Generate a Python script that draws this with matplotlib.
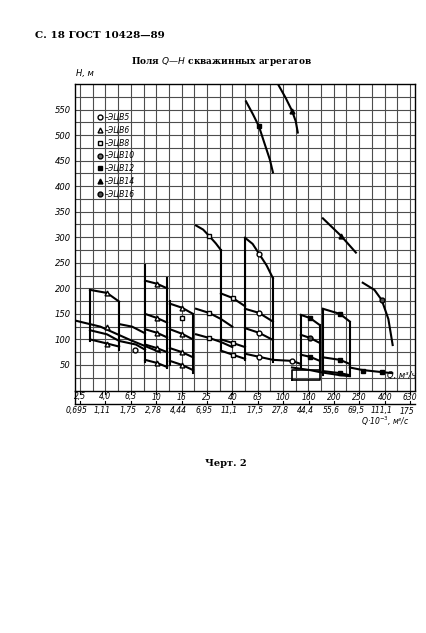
import matplotlib
matplotlib.use('Agg')
import matplotlib.pyplot as plt

plt.rcParams['font.family'] = ['DejaVu Sans']

# подача Q, м3/ч (верхний ряд) и Q*10^-3, м3/с (нижний ряд)
q_h = ['2,5', '4,0', '6,3', '10', '16', '25', '40', '63', '100', '160', '200', '250', '400', '630']
q_s = ['0,695', '1,11', '1,75', '2,78', '4,44', '6,95', '11,1', '17,5', '27,8', '44,4', '55,6', '69,5', '111,1', '175']

# кривые H(Q): x - номер деления шкалы Q, H в метрах
curves = [
    ([-0.2, 0.8, 1.97, 3.15], [137, 125, 99, 75]),
    ([0.39, 1.06, 1.54], [197, 191, 174]),
    ([0.39, 1.06, 1.54, 2.2, 2.56], [118, 110, 97, 90, 80]),
    ([0.39, 1.06, 1.54], [100, 92, 86]),
    ([1.54, 2.05, 2.56], [130, 125, 112]),
    ([2.56, 3.03, 3.43], [215, 209, 200]),
    ([2.56, 3.03, 3.43], [150, 142, 133]),
    ([2.56, 3.03, 3.43], [120, 113, 104]),
    ([2.56, 3.03, 3.43], [90, 83, 75]),
    ([2.56, 3.03, 3.43], [60, 54, 46]),
    ([3.54, 4.02, 4.45], [170, 162, 150]),
    ([3.54, 4.02, 4.45], [120, 111, 100]),
    ([3.54, 4.02, 4.45], [83, 75, 65]),
    ([3.54, 4.02, 4.45], [58, 50, 40]),
    ([4.57, 4.85, 5.08, 5.35, 5.55], [323, 315, 303, 288, 275]),
    ([4.57, 5.08, 5.55, 6.0], [160, 152, 140, 125]),
    ([4.57, 5.08, 5.55, 6.0], [110, 103, 95, 85]),
    ([5.55, 6.02, 6.5], [190, 181, 165]),
    ([5.55, 6.02, 6.5], [100, 93, 85]),
    ([5.55, 6.02, 6.5], [78, 70, 62]),
    ([6.5, 6.8, 7.05, 7.35, 7.6], [299, 287, 268, 245, 220]),
    ([6.5, 7.05, 7.6], [160, 152, 135]),
    ([6.5, 7.05, 7.6], [122, 113, 99]),
    ([6.5, 7.05, 7.6, 8.35, 8.7], [72, 66, 60, 58, 52]),
    ([6.54, 6.81, 7.05, 7.28, 7.48, 7.6], [566, 541, 517, 482, 452, 427]),
    ([7.83, 8.1, 8.35, 8.5, 8.58], [597, 573, 548, 527, 505]),
    ([9.57, 10.28, 10.87], [337, 303, 270]),
    ([11.14, 11.6, 11.89, 12.15, 12.32], [211, 197, 177, 140, 89]),
    ([8.7, 9.06, 9.45], [148, 142, 128]),
    ([8.7, 9.06, 9.45], [109, 103, 93]),
    ([8.7, 9.06, 9.45], [70, 66, 58]),
    ([8.35, 9.06, 9.45, 10.24, 10.63], [45, 40, 36, 30, 28]),
    ([9.57, 10.24, 10.63], [160, 150, 135]),
    ([9.57, 10.24, 10.63], [65, 60, 52]),
    ([9.57, 10.24, 10.63], [38, 34, 30]),
    ([10.63, 11.14, 11.89, 12.3], [45, 40, 36, 34]),
]
# вертикальные границы полей: x, H низ, H верх
edges_x = [0.39, 1.54, 2.56, 3.43, 3.54, 4.45, 5.55, 6.5, 7.6, 8.7, 9.45, 9.57, 10.63]
edges_lo = [97, 79, 56, 44, 50, 35, 80, 60, 56, 44, 40, 30, 28]
edges_hi = [197, 174, 246, 221, 175, 150, 275, 299, 220, 148, 128, 160, 135]

# маркеры: x, H, тип
mk_x = [2.17, 1.06, 1.06, 1.06, 3.03, 3.03, 3.03, 3.03, 3.03, 4.02, 4.02, 4.02, 4.02,
        4.02, 5.08, 5.08, 5.08, 6.02, 6.02, 6.02, 7.05, 7.05, 7.05, 7.05, 8.35,
        7.05, 8.35, 10.28, 11.89, 9.06, 9.06, 9.06, 10.24, 10.24, 10.24, 11.14, 11.89]
mk_h = [80, 191, 125, 92, 209, 142, 113, 83, 54, 162, 111, 75, 50,
        142, 303, 152, 103, 181, 93, 70, 268, 152, 113, 66, 58,
        517, 548, 303, 177, 142, 103, 66, 150, 60, 34, 38, 36]
mk_t = ['o', '^', '^', '^', '^', '^', '^', '^', '^', '^', '^', '^', '^',
        's', 's', 's', 's', 's', 's', 's', 'o', 'o', 'o', 'o', 'o',
        'S', 'T', 'T', 'h', 'S', 'h', 'S', 'S', 'S', 'S', 'S', 'S']

legend_names = ['ЭЦВ5', 'ЭЦВ6', 'ЭЦВ8', 'ЭЦВ10', 'ЭЦВ12', 'ЭЦВ14', 'ЭЦВ16']
legend_mk = ['o', '^', 's', 'o', 'S', 'T', 'h']


def mstyle(t):
    if t == 'S':
        return dict(marker='s', mfc='black', mec='black')
    if t == 'T':
        return dict(marker='^', mfc='black', mec='black')
    if t == 'h':
        return dict(marker='o', mfc='0.3', mec='black')
    return dict(marker=t, mfc='white', mec='black')


fig = plt.figure(figsize=(4.27, 6.33), dpi=100)
ax = fig.add_axes([75 / 427, 1 - 390.5 / 633, 340 / 427, 306.5 / 633])
ax.set_xlim(-0.2, 13.2)
ax.set_ylim(0, 600)
for k in range(0, 27):
    ax.axvline(k * 0.5, color='0.3', lw=0.8, zorder=0)
for h in range(25, 600, 25):
    ax.axhline(h, color='0.3', lw=0.8, zorder=0)
for s in ax.spines.values():
    s.set_linewidth(1.0)
ax.set_xticks([])
ax.set_yticks(range(50, 600, 50))
ax.set_yticklabels([str(v) for v in range(50, 600, 50)], fontsize=6, style='italic')
ax.tick_params(axis='y', length=0, pad=3)

for xs, hs in curves:
    ax.plot(xs, hs, color='black', lw=1.5, zorder=2)
for x, lo, hi in zip(edges_x, edges_lo, edges_hi):
    ax.plot([x, x], [lo, hi], color='black', lw=1.5, zorder=2)
ax.plot([8.35, 9.45, 9.45, 8.35, 8.35], [21, 21, 40, 40, 21], color='black', lw=1.2)
for x, h, t in zip(mk_x, mk_h, mk_t):
    ax.plot([x], [h], ls='none', ms=3.5, zorder=3, **mstyle(t))

# легенда
for i, (nm, t) in enumerate(zip(legend_names, legend_mk)):
    yy = 535 - i * 25
    st = mstyle(t)
    if t == 'o' and nm == 'ЭЦВ10':
        st = dict(marker='o', mfc='0.4', mec='black')
    ax.plot([0.8], [yy], ls='none', ms=3.5, **st)
    ax.text(0.95, yy, '–' + nm, fontsize=5.5, style='italic', va='center')

ax.text(-0.15, 612, 'H, м', fontsize=6, style='italic', va='bottom')
ax.text(12.1, 30, 'Q, м³/ч', fontsize=6, style='italic', va='center')

# шкала Q под графиком
y1 = 1 - 404 / 633
fig.add_artist(plt.Line2D([75 / 427, 415 / 427], [y1, y1], color='black', lw=1.0))
fig.add_artist(plt.Line2D([75 / 427, 75 / 427], [y1, 1 - 390.5 / 633], color='black', lw=1.0))
for i, (a, b) in enumerate(zip(q_h, q_s)):
    px = 80 + 25.4 * i
    fx = px / 427
    fig.add_artist(plt.Line2D([fx, fx], [1 - 390.5 / 633, 1 - 394 / 633], color='black', lw=0.8))
    fig.add_artist(plt.Line2D([fx, fx], [y1, y1 + 3 / 633], color='black', lw=0.8))
    fig.text(fx, 1 - 397 / 633, a, fontsize=5.5, style='italic', ha='center', va='center')
    fig.text(fx - 3 / 427, 1 - 411 / 633, b, fontsize=5.5, style='italic', ha='center', va='center')
fig.text(385 / 427, 1 - 421 / 633, 'Q·10$^{-3}$, м³/с', fontsize=5.5, style='italic',
         ha='center', va='center')

fig.text(35 / 427, 1 - 36 / 633, 'С. 18 ГОСТ 10428—89', fontsize=7.5, weight='bold',
         va='center', family='DejaVu Serif')
fig.text(222 / 427, 1 - 62 / 633, 'Поля $Q$—$H$ скважинных агрегатов', fontsize=6.5,
         weight='bold', ha='center', va='center', family='DejaVu Serif')
fig.text(226 / 427, 1 - 464 / 633, 'Черт. 2', fontsize=7, weight='bold', ha='center',
         va='center', family='DejaVu Serif')

fig.savefig('out.png', dpi=100)
